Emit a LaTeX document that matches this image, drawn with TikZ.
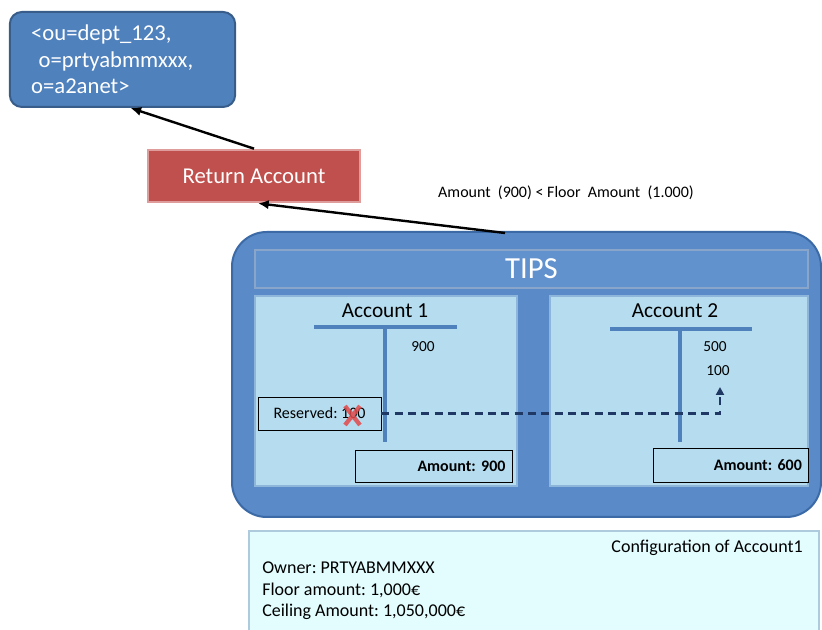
\documentclass[tikz,border=0pt]{standalone}
\usepackage{fontspec}
\setmainfont{Carlito}
\frenchspacing
\usetikzlibrary{arrows.meta,positioning,calc}
\definecolor{dnblue}{HTML}{4F81BD}
\definecolor{dnedge}{HTML}{385D8A}
\definecolor{retred}{HTML}{C0504D}
\definecolor{retedge}{HTML}{DE9C9A}
\definecolor{tipsfill}{HTML}{5A8AC8}
\definecolor{tipsedge}{HTML}{3B6AA6}
\definecolor{headfill}{HTML}{6192CE}
\definecolor{panelfill}{HTML}{B5DDEF}
\definecolor{paneledge}{HTML}{8DB6DA}
\definecolor{tline}{HTML}{4F81BD}
\definecolor{navy}{HTML}{1F3864}
\definecolor{conffill}{HTML}{E3FCFE}
\definecolor{confedge}{HTML}{AECADD}
\definecolor{xred}{HTML}{E24A4A}
\tikzset{
  dnbox/.style={draw=dnedge, fill=dnblue, line width=1.5pt, rounded corners=9pt, text=white, align=left, inner xsep=16pt, minimum width=168.75pt, minimum height=71.25pt, text width=137pt, font=\fontsize{17}{20}\selectfont},
  retbox/.style={draw=retedge, fill=retred, line width=2pt, text=white, minimum width=159pt, minimum height=39pt, font=\fontsize{17}{19}\selectfont},
  tipsbox/.style={draw=tipsedge, fill=tipsfill, line width=1.5pt, rounded corners=26pt, minimum width=441.75pt, minimum height=213.75pt},
  headbox/.style={draw=tipsedge!60, fill=headfill, line width=1.2pt, minimum width=414.75pt, minimum height=28.5pt, text=white, font=\fontsize{23}{26}\selectfont},
  panel/.style={draw=paneledge, fill=panelfill, line width=2pt, minimum height=142.5pt},
  acctitle/.style={font=\fontsize{16}{18}\selectfont, inner sep=0pt},
  val/.style={font=\fontsize{11.5}{13}\selectfont, inner sep=0pt},
  amtbox/.style={draw=black, fill=panelfill, line width=0.6pt, font=\fontsize{12}{14}\selectfont\bfseries, align=right, inner xsep=4pt},
  resbox/.style={draw=black, fill=panelfill, line width=0.6pt, minimum width=92.25pt, minimum height=24.75pt, font=\fontsize{12}{14}\selectfont},
  tacc/.style={draw=tline, line width=2.3pt},
  darrow/.style={-{Latex[length=8pt,width=7pt]}, line width=1.8pt},
  resdash/.style={-{Triangle[length=6pt,width=6pt]}, navy, line width=1.6pt, dash pattern=on 6pt off 4pt},
  conf/.style={draw=confedge, fill=conffill, line width=1.5pt, minimum width=427.5pt, minimum height=78pt},
  conftext/.style={font=\fontsize{13.5}{16}\selectfont, inner sep=0pt}
}
\begin{document}
\begin{tikzpicture}[x=0.75pt, y=-0.75pt]
\useasboundingbox (0,0) rectangle (822,630);
% upper part
\node[dnbox] (dn) at (122.5,59.5) {<ou=dept\_123,\\\ o=prtyabmmxxx,\\o=a2anet>};
\node[retbox] (ret) at (254,176) {Return Account};
\node[font=\fontsize{12}{14}\selectfont] (cond) at (566,193) {Amount\ \ (900) < Floor\ \ Amount\ \ (1.000)};
% TIPS
\node[tipsbox] (tips) at (526.5,374.5) {};
\node[headbox] (head) at (531.5,269) {TIPS};
\node[panel, minimum width=196.5pt] (accone) at (386,391) {};
\node[panel, minimum width=193.5pt] (acctwo) at (679,391) {};
\node[acctitle] (titleone) at (385,311) {Account 1};
\node[acctitle] (titletwo) at (675,311) {Account 2};
\draw[tacc] (314,327) -- (457,327) (385,327) -- (385,442);
\draw[tacc] (610,329) -- (752,329) (680,329) -- (680,442);
\node[val] (v900) at (423,347) {900};
\node[val] (v500) at (715,347) {500};
\node[val] (v100) at (718,371) {100};
\node[resbox] (res) at (319.5,413.5) {Reserved: 100};
\node[amtbox, minimum width=117.75pt, minimum height=24pt, text width=108pt] (amtone) at (433.5,466) {Amount: 900};
\node[amtbox, minimum width=116.25pt, minimum height=25.5pt, text width=107pt] (amttwo) at (730.5,465) {Amount: 600};
% reserved amount moves to account 2
\coordinate (resend) at (720,387);
\draw[resdash] (res.east) -| (resend);
\draw[xred, opacity=0.85, line width=3.2pt] (345,406) -- (360,425) (360,406) -- (345,425);
% arrows
\coordinate (tipstop) at (505,233);
\draw[darrow] (ret.north) -- ($(dn.south)+(8,0)$);
\draw[darrow] (tipstop) -- ($(ret.south)+(4,0)$);
% configuration
\node[conf, anchor=north west] (config) at (248,530) {};
\node[conftext, anchor=east] (conftitle) at (803,548) {Configuration of Account1};
\node[conftext, anchor=north west, align=left] (confbody) at (262,562) {Owner: PRTYABMMXXX\\Floor amount: 1,000€\\Ceiling Amount: 1,050,000€};
\end{tikzpicture}
\end{document}
